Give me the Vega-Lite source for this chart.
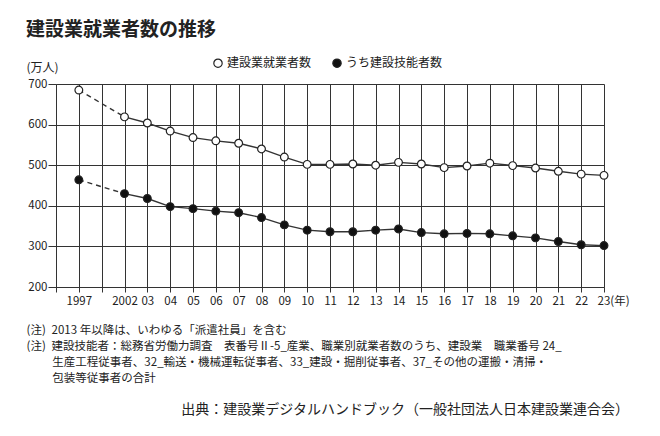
{
  "$schema": "https://vega.github.io/schema/vega-lite/v6.json",
  "background": "white",
  "padding": {"left": 26, "top": 21, "right": 5, "bottom": 5},
  "config": {
    "font": "Noto Sans CJK JP",
    "view": {"stroke": null},
    "concat": {"spacing": 0}
  },
  "title": {
    "text": "建設業就業者数の推移",
    "anchor": "start",
    "fontSize": 19,
    "fontWeight": "bold",
    "color": "#222",
    "offset": 17
  },
  "datasets": {
    "pts": [
      {"年": "1997", "系列": "建設業就業者数", "万人": 685},
      {"年": "2002", "系列": "建設業就業者数", "万人": 619},
      {"年": "03", "系列": "建設業就業者数", "万人": 604},
      {"年": "04", "系列": "建設業就業者数", "万人": 584},
      {"年": "05", "系列": "建設業就業者数", "万人": 568},
      {"年": "06", "系列": "建設業就業者数", "万人": 560},
      {"年": "07", "系列": "建設業就業者数", "万人": 554},
      {"年": "08", "系列": "建設業就業者数", "万人": 540},
      {"年": "09", "系列": "建設業就業者数", "万人": 520},
      {"年": "10", "系列": "建設業就業者数", "万人": 502},
      {"年": "11", "系列": "建設業就業者数", "万人": 502},
      {"年": "12", "系列": "建設業就業者数", "万人": 503},
      {"年": "13", "系列": "建設業就業者数", "万人": 500},
      {"年": "14", "系列": "建設業就業者数", "万人": 507},
      {"年": "15", "系列": "建設業就業者数", "万人": 503},
      {"年": "16", "系列": "建設業就業者数", "万人": 494},
      {"年": "17", "系列": "建設業就業者数", "万人": 498},
      {"年": "18", "系列": "建設業就業者数", "万人": 505},
      {"年": "19", "系列": "建設業就業者数", "万人": 499},
      {"年": "20", "系列": "建設業就業者数", "万人": 493},
      {"年": "21", "系列": "建設業就業者数", "万人": 485},
      {"年": "22", "系列": "建設業就業者数", "万人": 478},
      {"年": "23", "系列": "建設業就業者数", "万人": 475},
      {"年": "1997", "系列": "うち建設技能者数", "万人": 464},
      {"年": "2002", "系列": "うち建設技能者数", "万人": 430},
      {"年": "03", "系列": "うち建設技能者数", "万人": 418},
      {"年": "04", "系列": "うち建設技能者数", "万人": 398},
      {"年": "05", "系列": "うち建設技能者数", "万人": 393},
      {"年": "06", "系列": "うち建設技能者数", "万人": 387},
      {"年": "07", "系列": "うち建設技能者数", "万人": 383},
      {"年": "08", "系列": "うち建設技能者数", "万人": 371},
      {"年": "09", "系列": "うち建設技能者数", "万人": 353},
      {"年": "10", "系列": "うち建設技能者数", "万人": 340},
      {"年": "11", "系列": "うち建設技能者数", "万人": 336},
      {"年": "12", "系列": "うち建設技能者数", "万人": 336},
      {"年": "13", "系列": "うち建設技能者数", "万人": 340},
      {"年": "14", "系列": "うち建設技能者数", "万人": 343},
      {"年": "15", "系列": "うち建設技能者数", "万人": 334},
      {"年": "16", "系列": "うち建設技能者数", "万人": 331},
      {"年": "17", "系列": "うち建設技能者数", "万人": 332},
      {"年": "18", "系列": "うち建設技能者数", "万人": 331},
      {"年": "19", "系列": "うち建設技能者数", "万人": 326},
      {"年": "20", "系列": "うち建設技能者数", "万人": 321},
      {"年": "21", "系列": "うち建設技能者数", "万人": 312},
      {"年": "22", "系列": "うち建設技能者数", "万人": 304},
      {"年": "23", "系列": "うち建設技能者数", "万人": 302}
    ]
  },
  "vconcat": [
    {
      "width": 548,
      "height": 203,
      "data": {"name": "pts"},
      "title": {
        "text": "出典：建設業デジタルハンドブック（一般社団法人日本建設業連合会）",
        "orient": "bottom",
        "anchor": "end",
        "fontSize": 14,
        "fontWeight": "normal",
        "color": "#222",
        "offset": 19,
        "dx": 0
      },
      "encoding": {
        "x": {
          "field": "年",
          "type": "ordinal",
          "sort": null,
          "scale": {
            "type": "point",
            "padding": 0,
            "domain": ["", "1997", " ", "2002", "03", "04", "05", "06", "07", "08", "09", "10", "11", "12", "13", "14", "15", "16", "17", "18", "19", "20", "21", "22", "23"]
          },
          "axis": {
            "labelAngle": 0,
            "labelFontSize": 11.5,
            "labelColor": "#222",
            "labelPadding": 3,
            "labelOverlap": false,
            "labelExpr": "datum.value == '23' ? '23(年)' : datum.value",
            "labelAlign": {"condition": {"test": "datum.value == '23'", "value": "left"}, "value": "center"},
            "labelOffset": {"condition": {"test": "datum.value == '23'", "value": -7}, "value": 0},
            "grid": true,
            "gridColor": "#333",
            "gridWidth": 1,
            "domainColor": "#333",
            "tickColor": "#333",
            "tickSize": 5,
            "title": [
              "(注)\u20022013 年以降は、いわゆる「派遣社員」を含む",
              "(注)\u2002建設技能者：総務省労働力調査\u3000表番号Ⅱ-5_産業、職業別就業者数のうち、建設業\u3000職業番号 24_",
              "\u200b\u3000\u3000\u2005生産工程従事者、32_輸送・機械運転従事者、33_建設・掘削従事者、37_その他の運搬・清掃・",
              "\u200b\u3000\u3000\u2005包装等従事者の合計"
            ],
            "titleFontSize": 11.5,
            "titleFontWeight": "normal",
            "titleColor": "#222",
            "titleAnchor": "start",
            "titleAlign": "left",
            "titleBaseline": "top",
            "titleLineHeight": 16,
            "titleX": -30,
            "titleY": 37
          }
        },
        "y": {
          "field": "万人",
          "type": "quantitative",
          "scale": {"domain": [200, 700], "nice": false, "zero": false},
          "axis": {
            "values": [200, 300, 400, 500, 600, 700],
            "labelFontSize": 11.5,
            "labelColor": "#222",
            "labelPadding": 1,
            "grid": true,
            "gridColor": "#333",
            "gridWidth": 1,
            "domainColor": "#333",
            "tickColor": "#333",
            "tickSize": 8,
            "title": "(万人)",
            "titleAngle": 0,
            "titleFontSize": 12,
            "titleFontWeight": "normal",
            "titleColor": "#222",
            "titleAlign": "left",
            "titleBaseline": "middle",
            "titleX": -30,
            "titleY": -17
          }
        }
      },
      "layer": [
        {
          "transform": [{"filter": "datum['年'] == '1997' || datum['年'] == '2002'"}],
          "mark": {"type": "line", "color": "#333", "strokeWidth": 1.4, "strokeDash": [5, 4]},
          "encoding": {"detail": {"field": "系列"}}
        },
        {
          "transform": [{"filter": "datum['年'] != '1997'"}],
          "mark": {"type": "line", "color": "#333", "strokeWidth": 1.4},
          "encoding": {"detail": {"field": "系列"}}
        },
        {
          "mark": {"type": "circle", "size": 60, "stroke": "#222", "strokeWidth": 1.2, "opacity": 1},
          "encoding": {
            "fill": {
              "field": "系列",
              "type": "nominal",
              "scale": {"domain": ["建設業就業者数", "うち建設技能者数"], "range": ["white", "#111"]},
              "legend": {
                "title": null,
                "orient": "none",
                "direction": "horizontal",
                "legendX": 156,
                "legendY": -27,
                "symbolType": "circle",
                "symbolSize": 70,
                "symbolStrokeColor": "#222",
                "symbolStrokeWidth": 1.2,
                "symbolOpacity": 1,
                "labelFontSize": 12,
                "labelColor": "#222",
                "labelOffset": 3,
                "columnPadding": 18
              }
            }
          }
        }
      ]
    }
  ]
}
